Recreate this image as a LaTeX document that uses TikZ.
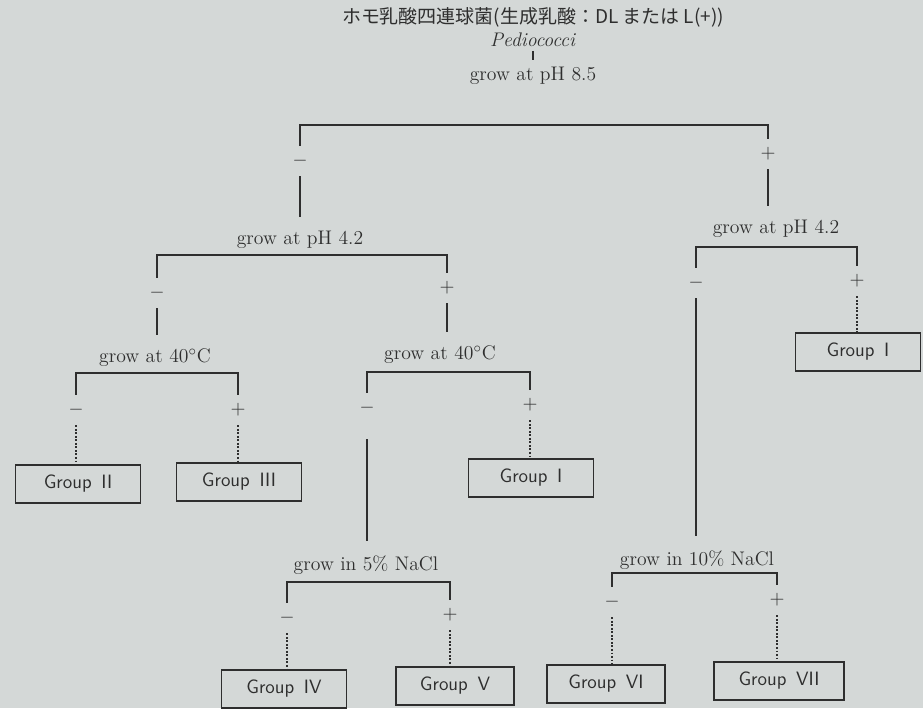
\documentclass[tikz,border=0pt]{standalone}
\usepackage{fontspec}
\newfontfamily\jpfont{Noto Sans CJK JP}
\definecolor{paper}{HTML}{D4D8D7}
\definecolor{ink}{HTML}{2E2E2E}
\tikzset{
  cond/.style={inner sep=2pt, text=ink, font=\fontsize{11.2}{13}\selectfont},
  sgn/.style={inner sep=0pt, minimum height=0.6cm, text=ink, font=\fontsize{11}{13}\selectfont},
  grp/.style={draw=ink, line width=1pt, minimum width=2.5cm, minimum height=0.76cm, text=ink, font=\sffamily\fontsize{11}{13}\selectfont},
  solid line/.style={draw=ink, line width=1pt},
  dot line/.style={draw=ink, line width=1pt, densely dotted},
}
\begin{document}
\begin{tikzpicture}[x=0.02cm, y=-0.02cm]
    \fill[paper] (0,0) rectangle (923,708);
    \useasboundingbox (0,0) rectangle (923,708);

    \node[text=ink] (title) at (533,17) {\jpfont\fontsize{10.8}{13}\selectfont ホモ乳酸四連球菌(生成乳酸：DL または L(+))};
    \node[cond] (ped) at (533,40) {\textit{Pediococci}};
    \node[cond] (ph85) at (533,76) {grow at pH 8.5};
    \coordinate (b1) at (533,125);
    \node[sgn] (s1m) at (300,161) {$-$};
    \node[sgn] (s1p) at (768,154) {$+$};

    \node[cond] (ph42l) at (300,240) {grow at pH 4.2};
    \coordinate (b2) at (300,255);
    \node[sgn] (s2m) at (157,293) {$-$};
    \node[sgn] (s2p) at (447,288) {$+$};

    \node[cond] (ph42r) at (776,229) {grow at pH 4.2};
    \coordinate (b3) at (776,247);
    \node[sgn] (s3m) at (696,283) {$-$};
    \node[sgn] (s3p) at (857,281) {$+$};

    \node[cond] (t40l) at (155,358) {grow at 40$^\circ$C};
    \coordinate (b4) at (155,373);
    \node[sgn] (s4m) at (76,410) {$-$};
    \node[sgn] (s4p) at (238,410) {$+$};

    \node[cond] (t40m) at (440,355) {grow at 40$^\circ$C};
    \coordinate (b5) at (440,372);
    \node[sgn] (s5m) at (367,408) {$-$};
    \node[sgn] (s5p) at (530,405) {$+$};

    \node[grp] (g2) at (78,484) {Group\enspace II};
    \node[grp] (g3) at (239,482) {Group\enspace III};
    \node[grp] (g1m) at (531,478) {Group\enspace I};
    \node[grp] (g1r) at (858,352) {Group\enspace I};

    \node[cond] (na5) at (366,565) {grow in 5\% NaCl};
    \coordinate (b6) at (366,582);
    \node[sgn] (s6m) at (287,618) {$-$};
    \node[sgn] (s6p) at (450,615) {$+$};

    \node[cond] (na10) at (697,560) {grow in 10\% NaCl};
    \coordinate (b7) at (697,573);
    \node[sgn] (s7m) at (612,602) {$-$};
    \node[sgn] (s7p) at (777,600) {$+$};

    \node[grp] (g4) at (284,689) {Group\enspace IV};
    \node[grp, minimum width=2.35cm] (g5) at (455,686) {Group\enspace V};
    \node[grp, minimum width=2.35cm] (g6) at (606,684) {Group\enspace VI};
    \node[grp, minimum width=2.6cm] (g7) at (779,681) {Group\enspace VII};

    % stems and brackets
    \draw[solid line, shorten >=2pt] (ped) -- (ph85);
    \draw[solid line] (s1m.north) |- (b1) -| (s1p.north);
    \draw[solid line, shorten >=6pt] (s1m.south) -- (ph42l.north);
    \draw[solid line, shorten >=6pt] (s1p.south) -- (s1p.south |- ph42r.north);

    \draw[solid line] (s2m.north) |- (b2) -| (s2p.north);
    \draw[solid line, shorten >=6pt] (s2m.south) -- (s2m.south |- t40l.north);
    \draw[solid line, shorten >=6pt] (s2p.south) -- (s2p.south |- t40m.north);

    \draw[solid line] (s3m.north) |- (b3) -| (s3p.north);
    \draw[solid line, shorten >=6pt] (s3m.south) -- (s3m.south |- na10.north);
    \draw[dot line] (s3p.south) -- (s3p.south |- g1r.north);

    \draw[solid line] (s4m.north) |- (b4) -| (s4p.north);
    \draw[dot line] (s4m.south) -- (s4m.south |- g2.north);
    \draw[dot line] (s4p.south) -- (s4p.south |- g3.north);

    \draw[solid line] (s5m.north) |- (b5) -| (s5p.north);
    \draw[solid line, shorten <=9pt, shorten >=6pt] (s5m.south) -- (s5m.south |- na5.north);
    \draw[dot line] (s5p.south) -- (s5p.south |- g1m.north);

    \draw[solid line] (s6m.north) |- (b6) -| (s6p.north);
    \draw[dot line] (s6m.south) -- (s6m.south |- g4.north);
    \draw[dot line] (s6p.south) -- (s6p.south |- g5.north);

    \draw[solid line] (s7m.north) |- (b7) -| (s7p.north);
    \draw[dot line] (s7m.south) -- (s7m.south |- g6.north);
    \draw[dot line] (s7p.south) -- (s7p.south |- g7.north);
\end{tikzpicture}
\end{document}
